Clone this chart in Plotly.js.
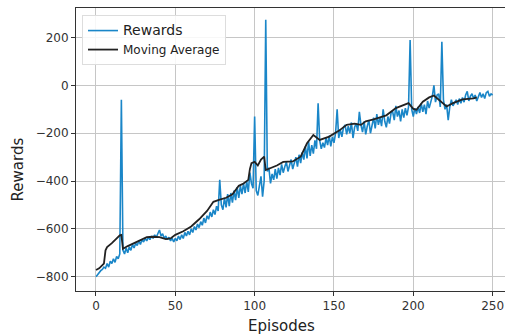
<!DOCTYPE html>
<html>
<head>
<meta charset="utf-8">
<script src="https://cdn.plot.ly/plotly-3.0.1.min.js"></script>
<style>html,body{margin:0;padding:0;background:#fff;}#chart{width:505px;height:334px;}</style>
</head>
<body>
<div id="chart"></div>
<script>
// Rewards per episode (episodes 0..250)
const rewards = [
-800,-790,-785,-775,-770,-760,-765,-745,-760,-735,
-745,-725,-740,-715,-725,-705,-60,-690,-705,-680,
-700,-675,-690,-665,-680,-660,-670,-650,-665,-645,
-655,-640,-650,-635,-645,-630,-640,-625,-635,-615,
-605,-630,-620,-640,-630,-645,-635,-650,-640,-655,
-640,-650,-630,-645,-625,-640,-615,-630,-610,-625,
-600,-615,-590,-605,-580,-595,-570,-585,-555,-575,
-545,-560,-530,-550,-520,-540,-505,-525,-395,-500,
-520,-470,-510,-455,-505,-450,-490,-440,-480,-425,
-470,-420,-455,-410,-450,-400,-445,-365,-410,-430,
-130,-440,-460,-420,-380,-465,-400,275,-360,-345,
-410,-370,-395,-350,-390,-345,-375,-330,-365,-340,
-320,-360,-335,-310,-350,-325,-300,-340,-290,-325,
-280,-310,-255,-305,-235,-295,-250,-285,-230,-265,
-75,-230,-265,-240,-260,-220,-250,-210,-255,-215,
-240,-200,-100,-220,-185,-215,-175,-165,-205,-170,
-200,-155,-220,-175,-160,-190,-110,-165,-195,-150,
-205,-170,-145,-200,-160,-135,-180,-120,-165,-135,
-170,-100,-150,-175,-130,-160,-115,-110,-145,-85,
-130,-105,-150,-100,-135,-95,-125,-90,190,-100,
-130,-95,-120,-90,-115,-75,-110,-80,-120,-65,
-95,-70,-45,0,-70,-40,-35,-90,183,-60,
-100,-80,-145,-90,-60,-85,-70,-60,-80,-55,
-75,-50,-70,-40,-25,-65,-45,-35,-55,-40,
-65,-45,-30,-50,-35,-55,-30,-25,-45,-35,
-40
];
const episodes = rewards.map((_, i) => i);

// Moving average
const maEpisodes = [0,2,4,5,6,7,10,13,15,16,17,20,24,28,32,36,40,44,47,50,55,60,65,70,74,78,82,86,90,93,96,97,98,100,102,104,106,107,110,114,118,124,129,133,137,141,147,153,158,163,167,170,175,183,189,194,197,200,202,206,210,213,217,221,225,231,238,240];
const maValues   = [-772,-765,-752,-745,-690,-676,-660,-640,-627,-625,-683,-672,-660,-648,-635,-633,-635,-643,-640,-625,-610,-590,-560,-525,-487,-478,-470,-455,-420,-410,-395,-350,-325,-320,-335,-310,-298,-354,-347,-335,-320,-318,-298,-242,-207,-228,-214,-190,-165,-160,-165,-150,-142,-125,-95,-82,-74,-98,-102,-68,-50,-42,-65,-88,-74,-58,-54,-50];

const xTicks = [0,50,100,150,200,250];
const yTicks = [-800,-600,-400,-200,0,200];

const FONT = 'DejaVu Sans, sans-serif';

const traces = [
  {x: episodes, y: rewards, type: 'scatter', mode: 'lines',
   name: '<span style="font-size:14px">Rewards</span>',
   line: {color: '#1a86c8', width: 1.6}},
  {x: maEpisodes, y: maValues, type: 'scatter', mode: 'lines',
   name: 'Moving Average',
   line: {color: '#222222', width: 1.8}}
];

const layout = {
  width: 505, height: 334,
  margin: {l: 76, r: 0, t: 8, b: 43, pad: 0},
  paper_bgcolor: '#fff', plot_bgcolor: '#fff',
  font: {family: FONT, color: '#333', size: 12},
  showlegend: true,
  legend: {x: 0.014, y: 0.975, xanchor: 'left', yanchor: 'top',
           bgcolor: 'rgba(255,255,255,0.85)', bordercolor: '#dddddd', borderwidth: 1,
           font: {family: FONT, size: 12, color: '#222'}, tracegroupgap: 0},
  xaxis: {range: [-12.6, 257.8], tickvals: xTicks, ticktext: xTicks.map(String),
          showgrid: true, gridcolor: '#c6c6c6', gridwidth: 1, zeroline: false,
          showline: true, linecolor: '#333', linewidth: 1, mirror: true,
          ticks: 'outside', ticklen: 4, tickcolor: '#333',
          tickfont: {family: FONT, size: 12, color: '#333'}},
  yaxis: {range: [-860, 324], tickvals: yTicks,
          showgrid: true, gridcolor: '#c6c6c6', gridwidth: 1, zeroline: false,
          showline: true, linecolor: '#333', linewidth: 1,
          ticks: 'outside', ticklen: 4, tickcolor: '#333',
          tickfont: {family: FONT, size: 12, color: '#333'}},
  annotations: [
    {text: 'Episodes', xref: 'paper', yref: 'paper', x: 0.48, y: -0.125,
     xanchor: 'center', yanchor: 'middle', showarrow: false,
     font: {family: FONT, size: 15, color: '#222'}},
    {text: 'Rewards', xref: 'paper', yref: 'paper', x: -0.135, y: 0.43,
     xanchor: 'center', yanchor: 'middle', showarrow: false, textangle: -90,
     font: {family: FONT, size: 15, color: '#222'}}
  ]
};

Plotly.newPlot('chart', traces, layout, {displayModeBar: false, staticPlot: true});
</script>
</body>
</html>
